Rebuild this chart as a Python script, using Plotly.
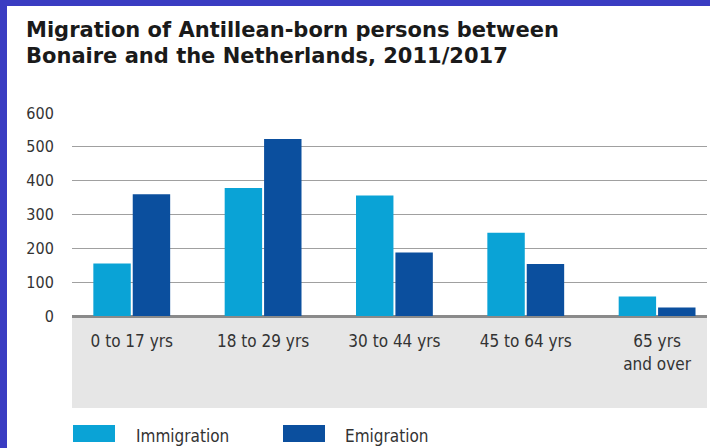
import plotly.graph_objects as go

categories = ["0 to 17 yrs", "18 to 29 yrs", "30 to 44 yrs", "45 to 64 yrs", "65 yrs<br>and over"]
immigration = [155, 378, 356, 246, 58]
emigration = [360, 523, 188, 154, 25]
series_names = ["Immigration", "Emigration"]
y_ticks = [0, 100, 200, 300, 400, 500, 600]
title_lines = ["Migration of Antillean-born persons between",
               "Bonaire and the Netherlands, 2011/2017"]

W, H = 710, 448
ML, MR, MT, MB = 72, 3, 113, 132
PW, PH = W - ML - MR, H - MT - MB

def px(x):
    return (x - ML) / PW

def py(y):
    return (H - MB - y) / PH

C_IMM = "#0aa3d6"
C_EMI = "#0b4f9e"
FONT_TXT = "Liberation Sans Narrow, DejaVu Sans Condensed, Roboto, sans-serif"

fig = go.Figure()
fig.add_trace(go.Bar(x=list(range(len(categories))), y=immigration, name=series_names[0],
                     marker=dict(color=C_IMM, line=dict(width=0)), showlegend=False))
fig.add_trace(go.Bar(x=list(range(len(categories))), y=emigration, name=series_names[1],
                     marker=dict(color=C_EMI, line=dict(width=0)), showlegend=False))

shapes = [
    # white panel
    dict(type="rect", xref="paper", yref="paper", x0=px(7), x1=px(712), y0=py(452), y1=py(6),
         fillcolor="white", line=dict(width=0), layer="below"),
    # grey label band
    dict(type="rect", xref="paper", yref="paper", x0=0, x1=1, y0=py(408), y1=0,
         fillcolor="#e6e6e6", line=dict(width=0), layer="below"),
    # legend swatches
    dict(type="rect", xref="paper", yref="paper", x0=px(73), x1=px(115), y0=py(442), y1=py(425),
         fillcolor=C_IMM, line=dict(width=0)),
    dict(type="rect", xref="paper", yref="paper", x0=px(283), x1=px(325), y0=py(442), y1=py(425),
         fillcolor=C_EMI, line=dict(width=0)),
]

annotations = [
    dict(text="<b>%s</b>" % title_lines[0], xref="paper", yref="paper", x=px(25), y=py(17),
         xanchor="left", yanchor="top", showarrow=False, borderpad=0,
         font=dict(family="DejaVu Sans, sans-serif", size=21, color="#1a1a1a")),
    dict(text="<b>%s</b>" % title_lines[1], xref="paper", yref="paper", x=px(25), y=py(43),
         xanchor="left", yanchor="top", showarrow=False, borderpad=0,
         font=dict(family="DejaVu Sans, sans-serif", size=21, color="#1a1a1a")),
    dict(text=series_names[0], xref="paper", yref="paper", x=px(134), y=py(436),
         xanchor="left", yanchor="middle", showarrow=False,
         font=dict(family=FONT_TXT, size=17, color="#333333")),
    dict(text=series_names[1], xref="paper", yref="paper", x=px(343), y=py(436),
         xanchor="left", yanchor="middle", showarrow=False,
         font=dict(family=FONT_TXT, size=17, color="#333333")),
]

fig.update_layout(
    width=W, height=H,
    margin=dict(l=ML, r=MR, t=MT, b=MB, pad=0),
    paper_bgcolor="#3a3cc2",
    plot_bgcolor="rgba(0,0,0,0)",
    barmode="group", bargap=0.4, bargroupgap=0.05,
    shapes=shapes, annotations=annotations,
    xaxis=dict(range=[-0.455, 4.38], tickmode="array", tickvals=list(range(len(categories))),
               ticktext=categories, showgrid=False, zeroline=False, showline=False,
               ticks="outside", ticklen=10, tickcolor="rgba(0,0,0,0)",
               tickfont=dict(family=FONT_TXT, size=17, color="#333333")),
    yaxis=dict(range=[0, 600], tickmode="array", tickvals=y_ticks, showgrid=True,
               gridcolor="#a0a0a0", gridwidth=1, zeroline=True, zerolinecolor="#8a8a8a",
               zerolinewidth=3, showline=False, ticks="outside", ticklen=14,
               tickcolor="rgba(0,0,0,0)",
               tickfont=dict(family=FONT_TXT, size=16, color="#333333")),
    font=dict(family=FONT_TXT),
)

fig.write_html("out.html", config={"displayModeBar": False},
               post_script="document.body.style.margin='0px';")
